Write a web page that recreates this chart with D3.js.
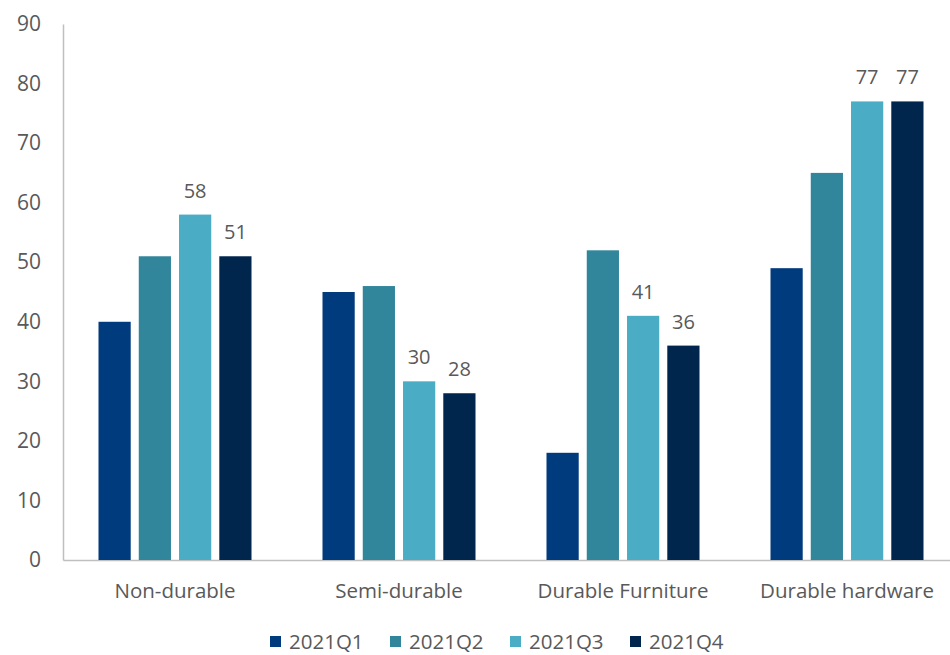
<!DOCTYPE html>
<html><head><meta charset="utf-8">
<script src="https://cdn.jsdelivr.net/npm/d3@7"></script>
<style>body{margin:0;background:#fff}svg{display:block}text{font-family:"Open Sans",sans-serif;fill:#595959}</style>
</head><body>
<svg id="c" width="950" height="655"></svg>
<script>
const categories = ["Non-durable","Semi-durable","Durable Furniture","Durable hardware"];
const series = ["2021Q1","2021Q2","2021Q3","2021Q4"];
const q1 = [40,45,18,49];
const q2 = [51,46,52,65];
const q3 = [58,30,41,77];
const q4 = [51,28,36,77];
const labelled = [false,false,true,true];
const yTicks = [0,10,20,30,40,50,60,70,80,90];
const colors = ["#003b7d","#31869b","#4bacc6","#00264d"];
const values = [q1,q2,q3,q4];

const svg = d3.select("#c");
const mLeft = 63, mRight = 959, mTop = 24, mBottom = 560;
const x0 = d3.scaleBand().domain(categories).range([mLeft,mRight]).padding(0);
const x1 = d3.scaleBand().domain(series).range([35.5, x0.bandwidth()-35.5]).paddingInner(0.2).paddingOuter(0);
const y = d3.scaleLinear().domain([0,90]).range([mBottom,mTop]);

// axes
const ya = svg.append("g").attr("transform",`translate(${mLeft},0)`)
  .call(d3.axisLeft(y).tickValues(yTicks).tickSize(0).tickPadding(22));
ya.select(".domain").attr("stroke","#bfbfbf").attr("stroke-width",1.5);
ya.selectAll("text").style("font-size","21px").attr("fill","#595959");

const xa = svg.append("g").attr("transform",`translate(0,${mBottom})`)
  .call(d3.axisBottom(x0).tickSize(0).tickPadding(23));
xa.select(".domain").attr("stroke","#bfbfbf").attr("stroke-width",1.5);
xa.selectAll("text").style("font-size","20.5px").attr("fill","#595959");

// bars
categories.forEach((c,ci)=>{
  const g = svg.append("g").attr("transform",`translate(${x0(c)},0)`);
  series.forEach((s,si)=>{
    const v = values[si][ci];
    g.append("rect").attr("x",x1(s)).attr("width",x1.bandwidth())
      .attr("y",y(v)).attr("height",y(0)-y(v)).attr("fill",colors[si]);
    if(labelled[si]){
      g.append("text").attr("x",x1(s)+x1.bandwidth()/2).attr("y",y(v)-17)
        .attr("text-anchor","middle").style("font-size","20px").attr("fill","#404040").text(v);
    }
  });
});

// legend
const lx = d3.scalePoint().domain(series).range([270,630]);
series.forEach((s,si)=>{
  const g = svg.append("g").attr("transform",`translate(${lx(s)},0)`);
  g.append("rect").attr("x",0).attr("y",636).attr("width",11).attr("height",11).attr("fill",colors[si]);
  g.append("text").attr("x",19).attr("y",649).style("font-size","20.5px").attr("fill","#595959").text(s);
});
</script>
</body></html>
